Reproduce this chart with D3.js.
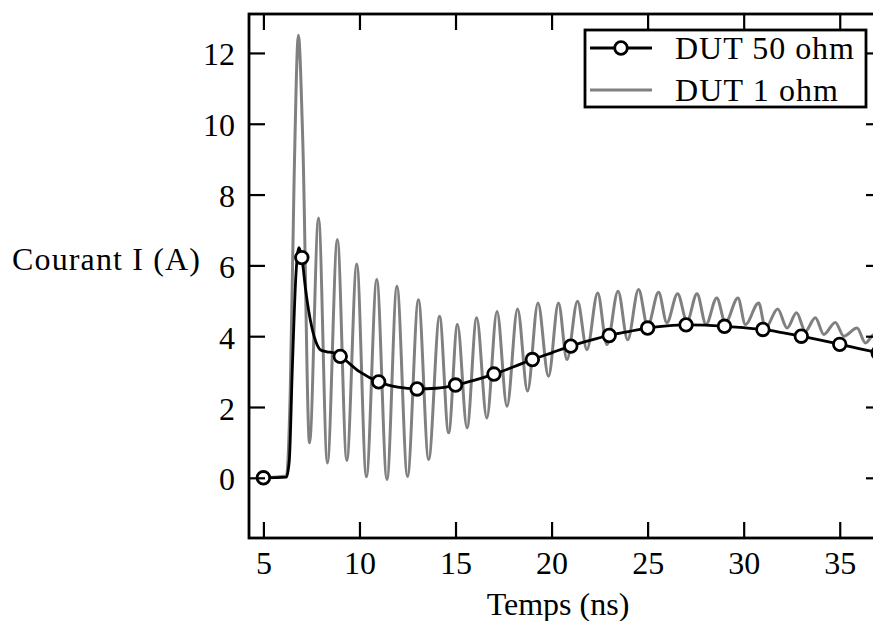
<!DOCTYPE html>
<html>
<head>
<meta charset="utf-8">
<script src="https://cdn.jsdelivr.net/npm/d3@7"></script>
<style>
  html, body { margin: 0; padding: 0; background: #fff; }
  svg text { font-family: "Liberation Serif", "DejaVu Serif", serif; fill: #000; }
</style>
</head>
<body>
<svg id="chart" width="873" height="621"></svg>
<script>
// ---- Data ----
const xTicks = [5, 10, 15, 20, 25, 30, 35];
const yTicks = [0, 2, 4, 6, 8, 10, 12];
const seriesNames = ["DUT 50 ohm", "DUT 1 ohm"];

// DUT 50 ohm (black, markers every 2 ns)
const t50 = [5, 6.2, 6.35, 6.5, 6.7, 6.85, 7, 7.2, 7.5, 7.8, 8, 8.3, 8.7, 9, 10, 11, 12, 13, 14, 15, 16, 17, 18, 19, 20, 21, 22, 23, 24, 25, 26, 27, 28, 29, 30, 31, 32, 33, 34, 35, 36, 37];
const i50 = [0, 0.02, 0.5, 3.0, 5.8, 6.5, 6.22, 5.3, 4.3, 3.75, 3.6, 3.56, 3.52, 3.43, 3.0, 2.71, 2.56, 2.51, 2.53, 2.62, 2.76, 2.93, 3.13, 3.34, 3.53, 3.72, 3.88, 4.02, 4.13, 4.23, 4.29, 4.32, 4.31, 4.28, 4.24, 4.19, 4.10, 4.00, 3.89, 3.77, 3.65, 3.53];

// DUT 1 ohm (grey, oscillating)
const t1 = [5, 6.2, 6.4, 6.6, 6.82, 7.05, 7.4, 7.87, 8.33, 8.85, 9.34, 9.86, 10.36, 10.9, 11.43, 11.95, 12.5, 13.07, 13.6, 14.17, 14.64, 15.1, 15.6, 16.1, 16.63, 17.16, 17.68, 18.23, 18.75, 19.29, 19.84, 20.36, 20.8, 21.35, 21.84, 22.4, 22.88, 23.46, 23.96, 24.53, 25.0, 25.57, 26.0, 26.56, 27.05, 27.57, 28.04, 28.6, 29.05, 29.7, 30.09, 30.78, 31.13, 31.77, 32.26, 32.75, 33.21, 33.73, 34.17, 34.77, 35.21, 35.9, 36.34, 36.8, 37.2];
const i1 = [0, 0.05, 2.5, 8.5, 12.5, 9.5, 0.99, 7.34, 0.42, 6.73, 0.49, 6.04, 0.03, 5.6, -0.05, 5.41, 0.04, 5.03, 0.52, 4.56, 1.27, 4.33, 1.41, 4.52, 1.69, 4.70, 2.02, 4.77, 2.45, 4.94, 2.87, 4.94, 3.34, 4.99, 3.62, 5.22, 3.76, 5.27, 3.9, 5.32, 4.28, 5.24, 4.38, 5.2, 4.42, 5.2, 4.33, 5.08, 4.38, 5.08, 4.33, 4.94, 4.23, 4.77, 4.23, 4.66, 4.14, 4.52, 4.05, 4.39, 4.0, 4.23, 3.81, 4.05, 3.8];

const xLabel = "Temps (ns)";
const yLabel = "Courant I (A)";

// ---- Layout ----
const L = 249, R = 882, T = 14, B = 538;
const svg = d3.select("#chart");
const x = d3.scaleLinear().domain([4.25, 37.2]).range([L, R]);
const y = d3.scaleLinear().domain([-1.7, 13.1]).range([B, T]);

svg.append("defs").append("clipPath").attr("id", "clip")
  .append("rect").attr("x", L).attr("y", T).attr("width", R - L).attr("height", B - T);

const data50 = t50.map((t, k) => ({ t, v: i50[k] }));
const data1 = t1.map((t, k) => ({ t, v: i1[k] }));

const line = d3.line().x(d => x(d.t)).y(d => y(d.v)).curve(d3.curveMonotoneX);

const plot = svg.append("g").attr("clip-path", "url(#clip)");
plot.append("path").datum(data1).attr("d", line)
  .attr("fill", "none").attr("stroke", "#808080").attr("stroke-width", 3).attr("stroke-linejoin", "round");
plot.append("path").datum(data50).attr("d", line)
  .attr("fill", "none").attr("stroke", "#000").attr("stroke-width", 2.8).attr("stroke-linejoin", "round");
plot.selectAll("circle.mk").data(data50.filter(d => Math.abs(((d.t - 5) % 2)) < 1e-9))
  .enter().append("circle").attr("class", "mk")
  .attr("cx", d => x(d.t)).attr("cy", d => y(d.v)).attr("r", 6.3)
  .attr("fill", "#fff").attr("stroke", "#000").attr("stroke-width", 2.8);

// ---- Axes (inward ticks on all sides) ----
const tickLen = 16;
const axB = svg.append("g").attr("transform", `translate(0,${B})`)
  .call(d3.axisBottom(x).tickValues(xTicks).tickSizeInner(-tickLen).tickSizeOuter(0).tickPadding(tickLen + 20).tickFormat(d3.format("d")));
const axT = svg.append("g").attr("transform", `translate(0,${T})`)
  .call(d3.axisTop(x).tickValues(xTicks).tickSizeInner(-tickLen).tickSizeOuter(0).tickFormat(""));
const axL = svg.append("g").attr("transform", `translate(${L},0)`)
  .call(d3.axisLeft(y).tickValues(yTicks).tickSizeInner(-tickLen).tickSizeOuter(0).tickPadding(14).tickFormat(d3.format("d")));
const axR = svg.append("g").attr("transform", `translate(${R},0)`)
  .call(d3.axisRight(y).tickValues(yTicks).tickSizeInner(-tickLen).tickSizeOuter(0).tickFormat(""));

[axB, axT, axL, axR].forEach(a => {
  a.select(".domain").remove();
  a.selectAll(".tick line").attr("stroke", "#000").attr("stroke-width", 2.2);
  a.selectAll(".tick text").attr("font-size", 32).attr("font-family", "Liberation Serif, serif").attr("fill", "#000");
});
axB.selectAll(".tick text").each(function() { d3.select(this).attr("y", 574 - B).attr("dy", 0); });
axL.selectAll(".tick text").attr("dy", 12);

// frame
svg.append("rect").attr("x", L).attr("y", T).attr("width", R - L).attr("height", B - T)
  .attr("fill", "none").attr("stroke", "#000").attr("stroke-width", 2.8);

// ---- Axis labels ----
svg.append("text").attr("x", 558).attr("y", 615).attr("text-anchor", "middle")
  .attr("font-size", 32).text(xLabel);
svg.append("text").attr("x", 12).attr("y", 270).attr("font-size", 32)
  .attr("textLength", 188).attr("lengthAdjust", "spacing").text(yLabel);

// ---- Legend ----
const lg = svg.append("g");
lg.append("rect").attr("x", 585).attr("y", 30).attr("width", 281).attr("height", 77)
  .attr("fill", "#fff").attr("stroke", "#000").attr("stroke-width", 2.8);
lg.append("line").attr("x1", 590).attr("x2", 652).attr("y1", 48).attr("y2", 48)
  .attr("stroke", "#000").attr("stroke-width", 2.8);
lg.append("circle").attr("cx", 621).attr("cy", 48).attr("r", 6.3)
  .attr("fill", "#fff").attr("stroke", "#000").attr("stroke-width", 2.8);
lg.append("text").attr("x", 675).attr("y", 59).attr("font-size", 32)
  .attr("textLength", 179).attr("lengthAdjust", "spacing").text(seriesNames[0]);
lg.append("line").attr("x1", 590).attr("x2", 652).attr("y1", 90).attr("y2", 90)
  .attr("stroke", "#808080").attr("stroke-width", 3);
lg.append("text").attr("x", 675).attr("y", 101).attr("font-size", 32)
  .attr("textLength", 163).attr("lengthAdjust", "spacing").text(seriesNames[1]);
</script>
</body>
</html>
